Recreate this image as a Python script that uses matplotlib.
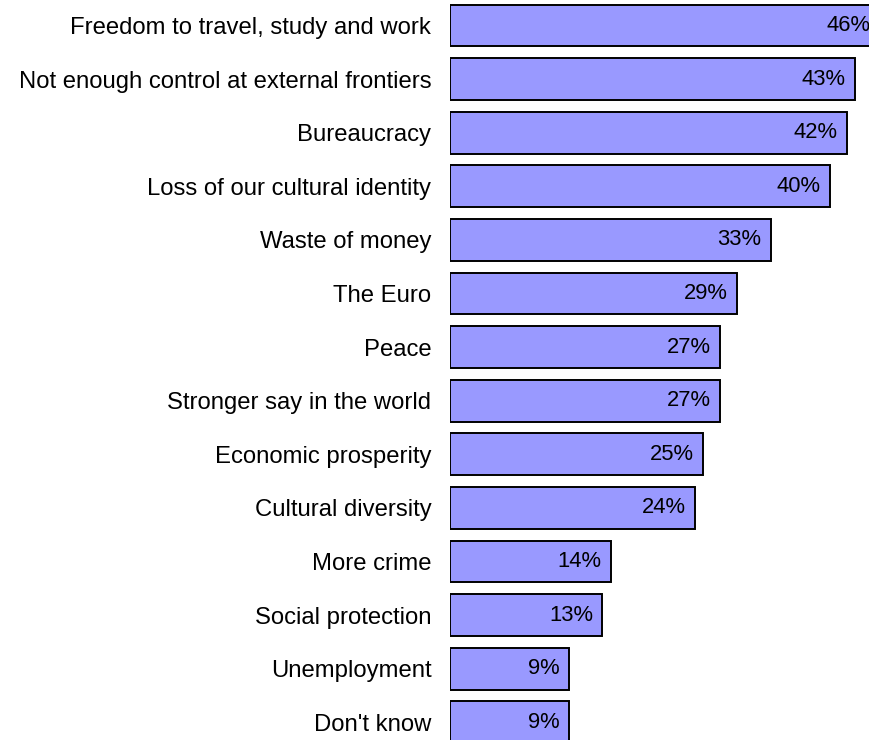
import matplotlib
matplotlib.use("Agg")
import matplotlib.pyplot as plt

# Survey answers and share of respondents (%)
categories = [
    "Freedom to travel, study and work",
    "Not enough control at external frontiers",
    "Bureaucracy",
    "Loss of our cultural identity",
    "Waste of money",
    "The Euro",
    "Peace",
    "Stronger say in the world",
    "Economic prosperity",
    "Cultural diversity",
    "More crime",
    "Social protection",
    "Unemployment",
    "Don't know",
]
values = [46, 43, 42, 40, 33, 29, 27, 27, 25, 24, 14, 13, 9, 9]

plt.rcParams["font.family"] = ["Liberation Sans", "DejaVu Sans"]

fig = plt.figure(figsize=(8.69, 7.40), dpi=100)
ax = fig.add_axes([450 / 869, 0, 1 - 450 / 869, 1])

# bars start a little left of zero
pad = 5.1
ypos = list(range(len(categories)))
ax.barh(ypos, [v + pad for v in values], left=-pad, height=0.78,
        color="#9999FF", edgecolor="black", linewidth=1.4)

for y, v in zip(ypos, values):
    ax.text(v - 1.1, y, f"{v}%", ha="right", va="center", fontsize=15.8,
            color="black", clip_on=True)

ax.set_xlim(-pad, 44.67)
ax.set_ylim(13.33, -0.476)
ax.set_yticks(ypos)
ax.set_yticklabels(categories, fontsize=17.2)
ax.tick_params(axis="y", length=0, pad=13.5)
ax.set_xticks([])
for s in ax.spines.values():
    s.set_visible(False)

fig.savefig("out.png", dpi=100)
